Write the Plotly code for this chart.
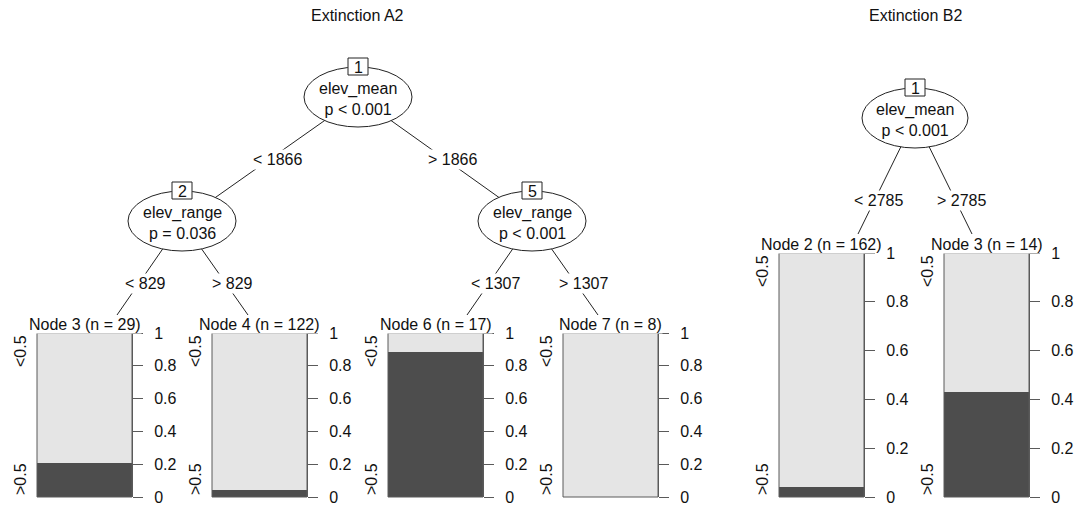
import plotly.graph_objects as go

FONT = "Liberation Sans, Arial, Helvetica, sans-serif"
W, H = 1080, 510
FS = 16
LIGHT = "#e5e5e5"
DARK = "#4d4d4d"
BORDER = "#5a5a5a"

# ---------------- data ----------------
tree_titles = ["Extinction A2", "Extinction B2"]
levels = ["<0.5", ">0.5"]

# tree A2
a2_inner_ids = [1, 2, 5]
a2_inner_vars = ["elev_mean", "elev_range", "elev_range"]
a2_inner_p = ["p < 0.001", "p = 0.036", "p < 0.001"]
a2_split_labels = ["< 1866", "> 1866", "< 829", "> 829", "< 1307", "> 1307"]
a2_term_ids = [3, 4, 6, 7]
a2_term_n = [29, 122, 17, 8]
a2_term_gt = [0.207, 0.041, 0.882, 0.0]   # proportion in level ">0.5"

# tree B2
b2_inner_ids = [1]
b2_inner_vars = ["elev_mean"]
b2_inner_p = ["p < 0.001"]
b2_split_labels = ["< 2785", "> 2785"]
b2_term_ids = [2, 3]
b2_term_n = [162, 14]
b2_term_gt = [0.043, 0.429]

# ---------------- layout (pixel positions) ----------------
trees = [
    dict(
        title=tree_titles[0], title_xy=(357, 15),
        inner_ids=a2_inner_ids, inner_vars=a2_inner_vars, inner_p=a2_inner_p,
        inner_xy=[(358, 97), (182, 221), (532, 221)], rx=54, ry=30,
        splits=a2_split_labels,
        edges=[(0, ("i", 1)), (0, ("i", 2)), (1, ("t", 0)), (1, ("t", 1)), (2, ("t", 2)), (2, ("t", 3))],
        label_xy=[(277, 159), (452, 159), (145, 283), (232, 283), (495, 283), (583, 283)],
        term_ids=a2_term_ids, term_n=a2_term_n, term_gt=a2_term_gt,
        term_x=[(37, 132), (212, 307), (388, 483), (563, 658)], term_y=(333, 497),
        term_anchor=[(117, 315), (248, 315), (467, 315), (598, 315)],
    ),
    dict(
        title=tree_titles[1], title_xy=(915, 15),
        inner_ids=b2_inner_ids, inner_vars=b2_inner_vars, inner_p=b2_inner_p,
        inner_xy=[(915, 118)], rx=53, ry=30,
        splits=b2_split_labels,
        edges=[(0, ("t", 0)), (0, ("t", 1))],
        label_xy=[(878, 200), (961, 200)],
        term_ids=b2_term_ids, term_n=b2_term_n, term_gt=b2_term_gt,
        term_x=[(779, 864), (944, 1029)], term_y=(253, 497),
        term_anchor=[(858, 234), (972, 234)],
    ),
]


def esc(s):
    return s.replace("<", "&lt;").replace(">", "&gt;")


fig = go.Figure()
shapes_lines, shapes_nodes, shapes_borders, annotations = [], [], [], []
layout_axes = {}
k = 2

for t in trees:
    annotations.append(dict(x=t["title_xy"][0], y=t["title_xy"][1], xref="x", yref="y",
                            text=t["title"], showarrow=False,
                            font=dict(size=FS, color="#111", family=FONT)))
    # edges
    for (pi, (kind, ci)), lab, lxy in zip(t["edges"], t["splits"], t["label_xy"]):
        x0, y0 = t["inner_xy"][pi]
        x1, y1 = t["inner_xy"][ci] if kind == "i" else t["term_anchor"][ci]
        shapes_lines.append(dict(type="line", xref="x", yref="y", x0=x0, y0=y0, x1=x1, y1=y1,
                                 line=dict(color="#222", width=1)))
        annotations.append(dict(x=lxy[0], y=lxy[1], xref="x", yref="y", text=esc(lab),
                                showarrow=False, bgcolor="white", borderpad=1,
                                font=dict(size=FS, color="#111", family=FONT)))
    # inner nodes
    for nid, var, p, (cx, cy) in zip(t["inner_ids"], t["inner_vars"], t["inner_p"], t["inner_xy"]):
        rx, ry = t["rx"], t["ry"]
        shapes_nodes.append(dict(type="circle", xref="x", yref="y",
                                 x0=cx - rx, x1=cx + rx, y0=cy - ry, y1=cy + ry,
                                 fillcolor="white", line=dict(color="#222", width=1)))
        by = cy - ry
        shapes_nodes.append(dict(type="rect", xref="x", yref="y",
                                 x0=cx - 10, x1=cx + 10, y0=by - 9, y1=by + 8,
                                 fillcolor="white", line=dict(color="#222", width=1)))
        annotations.append(dict(x=cx, y=by, xref="x", yref="y", text=str(nid), showarrow=False,
                                font=dict(size=FS, color="#111", family=FONT)))
        annotations.append(dict(x=cx, y=cy + 2, xref="x", yref="y",
                                text=esc(var) + "<br>" + esc(p), showarrow=False,
                                font=dict(size=FS, color="#111", family=FONT)))
    # terminal nodes
    yt, yb = t["term_y"]
    for nid, n, gt, (xl, xr) in zip(t["term_ids"], t["term_n"], t["term_gt"], t["term_x"]):
        xa, ya = f"x{k}", f"y{k}"
        fig.add_trace(go.Bar(x=[0], y=[gt], width=1, marker=dict(color=DARK, line=dict(width=0)),
                             xaxis=xa, yaxis=ya, showlegend=False, name=levels[1]))
        fig.add_trace(go.Bar(x=[0], y=[1 - gt], width=1, marker=dict(color=LIGHT, line=dict(width=0)),
                             xaxis=xa, yaxis=ya, showlegend=False, name=levels[0]))
        layout_axes[f"xaxis{k}"] = dict(domain=[xl / W, xr / W], range=[-0.5, 0.5], visible=False,
                                        anchor=ya, fixedrange=True, automargin=False)
        layout_axes[f"yaxis{k}"] = dict(domain=[1 - yb / H, 1 - yt / H], range=[0, 1], anchor=xa,
                                        side="right", tickvals=[0, 0.2, 0.4, 0.6, 0.8, 1],
                                        ticktext=["0", "0.2", "0.4", "0.6", "0.8", "1"],
                                        ticks="outside", ticklen=10, tickwidth=1, tickcolor=BORDER,
                                        showline=True, linecolor=BORDER, linewidth=1,
                                        showgrid=False, zeroline=False, fixedrange=True,
                                        ticklabelstandoff=8, automargin=False,
                                        tickfont=dict(size=FS, color="#111", family=FONT))
        shapes_borders.append(dict(type="rect", xref=f"{xa} domain", yref=f"{ya} domain",
                                   x0=0, x1=1, y0=0, y1=1, line=dict(color=BORDER, width=1)))
        annotations.append(dict(x=(xl + xr) / 2, y=yt - 9, xref="x", yref="y",
                                text=f"Node {nid} (n = {n})", showarrow=False, bgcolor="white",
                                borderpad=0, font=dict(size=FS, color="#111", family=FONT)))
        annotations.append(dict(x=xl - 17, y=yt + 18, xref="x", yref="y", text=esc(levels[0]),
                                textangle=-90, showarrow=False,
                                font=dict(size=FS, color="#111", family=FONT)))
        annotations.append(dict(x=xl - 17, y=yb - 18, xref="x", yref="y", text=esc(levels[1]),
                                textangle=-90, showarrow=False,
                                font=dict(size=FS, color="#111", family=FONT)))
        k += 1

fig.update_layout(
    width=W, height=H, margin=dict(l=0, r=0, t=0, b=0, autoexpand=False),
    paper_bgcolor="white", plot_bgcolor="white",
    barmode="stack", bargap=0, showlegend=False,
    font=dict(family=FONT, size=FS, color="#111"),
    xaxis=dict(domain=[0, 1], range=[0, W], visible=False, fixedrange=True, automargin=False),
    yaxis=dict(domain=[0, 1], range=[H, 0], visible=False, fixedrange=True, automargin=False),
    shapes=shapes_lines + shapes_nodes + shapes_borders,
    annotations=annotations,
    **layout_axes,
)

fig.write_html(
    "out.html",
    config={"displayModeBar": False, "responsive": False},
    post_script="document.body.style.margin='0';document.body.style.overflow='hidden';",
)
